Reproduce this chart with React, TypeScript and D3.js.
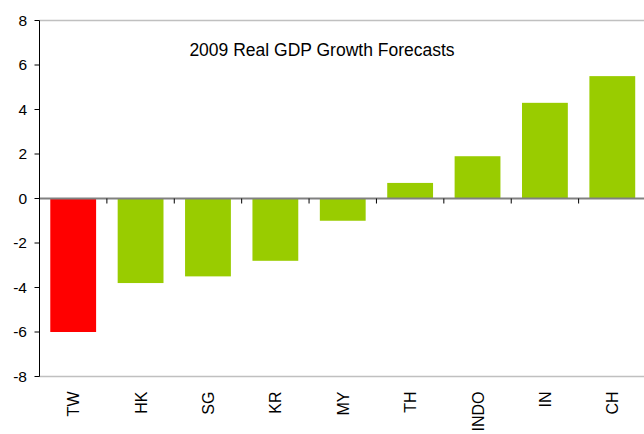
import React from "react";
import * as d3 from "d3";

const categories = ["TW", "HK", "SG", "KR", "MY", "TH", "INDO", "IN", "CH"];
const values = [-6.0, -3.8, -3.5, -2.8, -1.0, 0.7, 1.9, 4.3, 5.5];
const yTicks = [-8, -6, -4, -2, 0, 2, 4, 6, 8];
const title = "2009 Real GDP Growth Forecasts";

export default function App() {
  const W = 644, H = 434;
  const left = 39.5, right = 646, top = 20.5, bottom = 376.5;
  const x = d3.scaleBand<string>().domain(categories).range([left, right]).paddingInner(0.32).paddingOuter(0.16);
  const xb = d3.scaleBand<string>().domain(categories).range([left, right]);
  const y = d3.scaleLinear().domain([-8, 8]).range([bottom, top]);
  const font = "'Liberation Sans', Arial, sans-serif";
  return (
    <svg width={W} height={H} style={{ position: "absolute", left: 0, top: 0 }}>
      <rect width={W} height={H} fill="#fff" />
      <line x1={left} x2={W} y1={top} y2={top} stroke="#c0c0c0" strokeWidth={1.5} />
      <line x1={left} x2={W} y1={bottom} y2={bottom} stroke="#c0c0c0" strokeWidth={1.5} />
      {categories.map((c, i) => {
        const v = values[i];
        return (
          <rect key={c} x={x(c)} width={x.bandwidth()} y={y(Math.max(0, v))} height={Math.abs(y(v) - y(0))}
            fill={c === "TW" ? "#ff0000" : "#99cc00"} />
        );
      })}
      <line x1={left} x2={W} y1={y(0)} y2={y(0)} stroke="#808080" strokeWidth={2} />
      {categories.slice(1).map((c) => (
        <line key={c} x1={xb(c)} x2={xb(c)} y1={y(0)} y2={y(0) + 5} stroke="#000" strokeWidth={1} />
      ))}
      <line x1={left} x2={left} y1={top} y2={bottom} stroke="#000" strokeWidth={1} />
      {yTicks.map((t) => (
        <g key={t}>
          <line x1={left - 5} x2={left} y1={y(t)} y2={y(t)} stroke="#000" />
          <text x={27} y={y(t)} dy="0.35em" textAnchor="end" fontFamily={font} fontSize={15.5} fill="#000">{t}</text>
        </g>
      ))}
      {categories.map((c) => (
        <text key={c} transform={`translate(${(xb(c) as number) + xb.bandwidth() / 2 + 6},391.5) rotate(-90)`}
          textAnchor="end" fontFamily={font} fontSize={16} fill="#000">{c}</text>
      ))}
      <text x={322} y={56} textAnchor="middle" fontFamily={font} fontSize={17.5} fill="#000">{title}</text>
    </svg>
  );
}
